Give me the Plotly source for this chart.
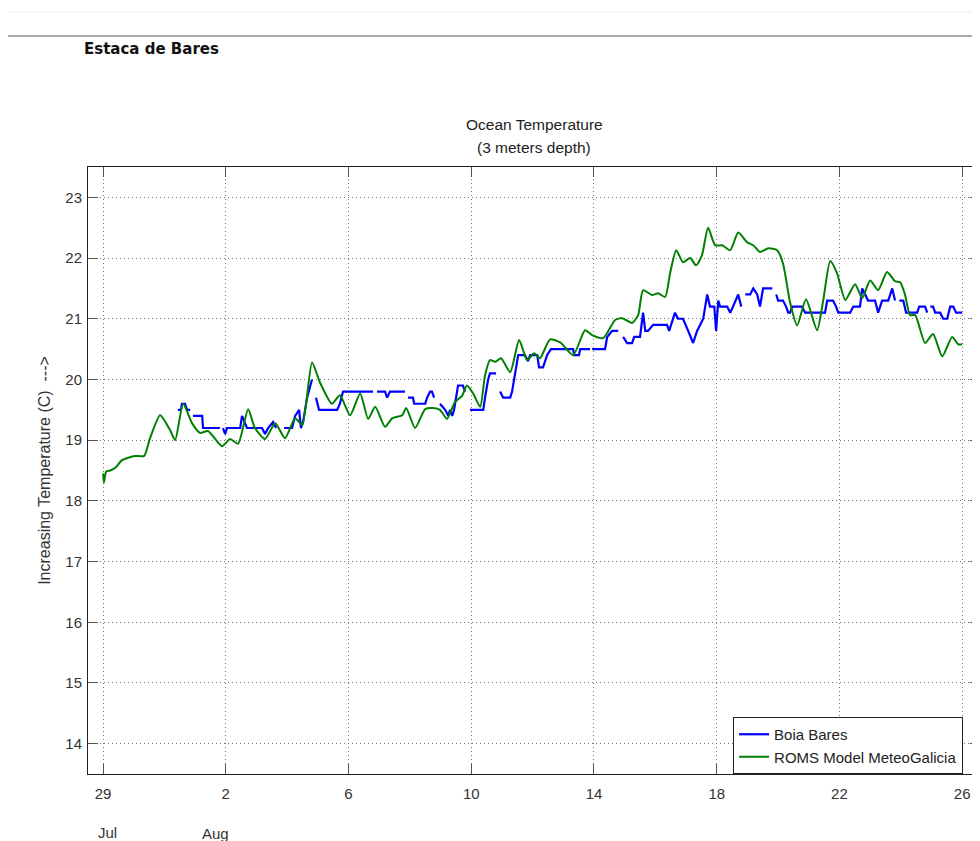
import plotly.graph_objects as go

# ---- data (x = days since 29 Jul 00:00, y = temperature in C) ----
tick_days = [0, 4, 8, 12, 16, 20, 24, 28]
tick_labels = ["29", "2", "6", "10", "14", "18", "22", "26"]
y_ticks = [14, 15, 16, 17, 18, 19, 20, 21, 22, 23]

roms_day = [0.0, 0.03, 0.1, 0.23, 0.39, 0.62, 1.04, 1.34, 1.53, 1.86, 2.18, 2.35, 2.61, 2.90,
            3.16, 3.42, 3.88, 4.14, 4.40, 4.73, 4.95, 5.28, 5.61, 5.93, 6.26, 6.49, 6.81, 7.07,
            7.46, 7.72, 8.05, 8.38, 8.64, 8.87, 9.19, 9.42, 9.75, 9.88, 10.17, 10.50, 10.76,
            10.98, 11.21, 11.47, 11.70, 11.86, 12.06, 12.29, 12.45, 12.61, 12.78, 12.97, 13.27,
            13.56, 13.82, 14.05, 14.24, 14.57, 14.90, 15.32, 15.71, 15.94, 16.30, 16.69, 16.92,
            17.24, 17.44, 17.60, 17.89, 18.09, 18.32, 18.48, 18.68, 18.90, 19.13, 19.33, 19.52,
            19.72, 19.95, 20.18, 20.44, 20.70, 20.99, 21.19, 21.41, 21.68, 21.97, 22.16, 22.39,
            22.62, 22.91, 23.27, 23.47, 23.70, 23.92, 24.19, 24.51, 24.74, 25.0, 25.26, 25.55,
            25.81, 25.98, 26.14, 26.30, 26.47, 26.79, 27.05, 27.35, 27.67, 27.87, 28.0]
roms_temp = [18.45, 18.3, 18.48, 18.5, 18.54, 18.67, 18.74, 18.74, 19.03, 19.41, 19.17, 19.0,
             19.6, 19.28, 19.12, 19.15, 18.9, 19.02, 18.94, 19.51, 19.2, 19.02, 19.28, 19.03,
             19.36, 19.25, 20.28, 19.95, 19.6, 19.74, 19.41, 19.77, 19.35, 19.55, 19.22, 19.36,
             19.41, 19.53, 19.2, 19.51, 19.53, 19.5, 19.35, 19.63, 19.73, 19.9, 19.77, 19.55,
             20.07, 20.32, 20.29, 20.35, 20.12, 20.65, 20.32, 20.43, 20.35, 20.66, 20.61, 20.4,
             20.81, 20.73, 20.68, 20.98, 21.01, 20.93, 21.06, 21.47, 21.39, 21.42, 21.36, 21.75,
             22.13, 21.93, 22.0, 21.88, 22.05, 22.5, 22.21, 22.21, 22.13, 22.42, 22.26, 22.21,
             22.1, 22.16, 22.13, 21.91, 21.27, 20.89, 21.32, 20.81, 21.3, 21.95, 21.75, 21.31,
             21.57, 21.34, 21.63, 21.47, 21.77, 21.62, 21.6, 21.39, 21.06, 21.06, 20.6, 20.75,
             20.38, 20.7, 20.58, 20.58]

buoy_day = [2.44, 2.54, 2.57, 2.67, 2.74, 2.84, None,
            2.93, 3.23, 3.26, 3.81, None,
            3.91, 3.98, 4.04, 4.47, 4.53, 4.60, 4.69, 5.18, 5.28, 5.38, 5.54, 5.64, None,
            5.90, 6.16, 6.26, 6.39, 6.45, 6.52, 6.65, 6.81, None,
            6.94, 7.04, 7.63, 7.72, 7.82, 8.80, None,
            8.93, 9.19, 9.26, 9.35, 9.84, None,
            9.94, 10.10, 10.14, 10.50, 10.56, 10.66, 10.72, 10.79, None,
            10.98, 11.15, 11.25, 11.31, 11.38, 11.44, 11.57, 11.73, 11.80, None,
            11.96, 12.39, 12.45, 12.55, 12.61, 12.81, None,
            12.94, 13.04, 13.27, 13.33, 13.43, 13.53, 13.75, 13.85, 13.92, 14.15, 14.21, 14.34,
            14.47, 14.60, 15.32, 15.35, 15.51, 15.55, 15.87, None,
            15.94, 16.36, 16.43, 16.59, 16.79, None,
            16.95, 17.08, 17.24, 17.31, 17.50, 17.60, 17.67, 17.76, 17.93, 18.38, 18.45, 18.64,
            18.74, 18.90, 19.07, 19.23, 19.36, 19.56, 19.69, 19.78, 19.92, 19.98, 20.05, 20.11,
            20.34, 20.44, 20.53, 20.70, 20.80, None,
            20.93, 21.09, 21.19, 21.32, 21.41, 21.51, 21.81, None,
            21.94, 22.00, 22.16, 22.26, 22.33, 22.39, 22.46, 22.78, 22.88, 23.53, 23.60, 23.79,
            23.89, 23.96, 24.35, 24.45, 24.67, 24.74, 24.84, 24.93, 25.16, 25.26, 25.39, 25.59,
            25.72, 25.81, None,
            25.95, 26.08, 26.17, 26.53, 26.60, 26.79, 26.86, None,
            26.96, 27.05, 27.12, 27.28, 27.38, 27.51, 27.61, 27.71, 27.80, 28.0]
buoy_temp = [19.5, 19.5, 19.6, 19.6, 19.5, 19.5, None,
             19.4, 19.4, 19.2, 19.2, None,
             19.2, 19.1, 19.2, 19.2, 19.4, 19.3, 19.2, 19.2, 19.1, 19.2, 19.3, 19.2, None,
             19.2, 19.2, 19.4, 19.5, 19.2, 19.3, 19.7, 20.0, None,
             19.7, 19.5, 19.5, 19.6, 19.8, 19.8, None,
             19.8, 19.8, 19.7, 19.8, 19.8, None,
             19.7, 19.7, 19.6, 19.6, 19.7, 19.8, 19.8, 19.7, None,
             19.6, 19.5, 19.4, 19.5, 19.4, 19.5, 19.9, 19.9, 19.8, None,
             19.5, 19.5, 19.7, 20.0, 20.1, 20.1, None,
             19.8, 19.7, 19.7, 19.8, 20.1, 20.4, 20.4, 20.3, 20.4, 20.4, 20.2, 20.2,
             20.4, 20.5, 20.5, 20.4, 20.4, 20.5, 20.5, None,
             20.5, 20.5, 20.7, 20.8, 20.8, None,
             20.7, 20.6, 20.6, 20.7, 20.7, 21.1, 20.8, 20.8, 20.9, 20.9, 20.8, 21.1,
             21.0, 21.0, 20.8, 20.6, 20.8, 21.0, 21.4, 21.2, 21.2, 20.8, 21.3, 21.2,
             21.2, 21.1, 21.2, 21.4, 21.2, None,
             21.4, 21.4, 21.5, 21.4, 21.2, 21.5, 21.5, None,
             21.4, 21.3, 21.3, 21.2, 21.1, 21.1, 21.2, 21.2, 21.1, 21.1, 21.3, 21.3,
             21.2, 21.1, 21.1, 21.2, 21.2, 21.5, 21.4, 21.3, 21.3, 21.1, 21.3, 21.3,
             21.5, 21.3, None,
             21.3, 21.3, 21.1, 21.1, 21.2, 21.2, 21.1, None,
             21.2, 21.2, 21.1, 21.1, 21.0, 21.0, 21.2, 21.2, 21.1, 21.1]

FONT = "Liberation Sans, Arial, sans-serif"

fig = go.Figure()
fig.add_trace(go.Scatter(x=buoy_day, y=buoy_temp, mode="lines", name="Boia Bares",
                         line=dict(color="#0000FF", width=2.2), connectgaps=False))
fig.add_trace(go.Scatter(x=roms_day, y=roms_temp, mode="lines", name="ROMS Model MeteoGalicia",
                         line=dict(color="#008000", width=2, shape="spline", smoothing=0.6)))

axis_common = dict(showline=True, linecolor="#222", linewidth=1, mirror="allticks",
                   ticks="inside", ticklen=10, tickcolor="#555", tickwidth=1,
                   showgrid=True, gridcolor="#777", griddash="1px,3px", gridwidth=1,
                   zeroline=False, tickfont=dict(family=FONT, size=15, color="#333"))

fig.update_xaxes(range=[-0.49, 28.58], tickvals=tick_days, ticktext=tick_labels,
                 ticklabelstandoff=6, **axis_common)
fig.update_yaxes(range=[13.5, 23.5], tickvals=y_ticks, ticklabelstandoff=2,
                 title=dict(text="Increasing Temperature (C)  --->",
                            font=dict(family=FONT, size=16, color="#333"), standoff=10),
                 **axis_common)

fig.update_layout(
    width=972, height=833,
    margin=dict(l=80, r=0, t=159, b=67),
    paper_bgcolor="white", plot_bgcolor="white",
    showlegend=True,
    legend=dict(x=0.981, xanchor="right", y=0, yanchor="bottom", bgcolor="white",
                bordercolor="#222", borderwidth=1,
                font=dict(family=FONT, size=15, color="#222"), tracegroupgap=0,
                itemwidth=30),
    annotations=[
        dict(text="Estaca de Bares", xref="paper", yref="paper", x=-0.007, y=1.2158,
             xanchor="left", yanchor="top", yshift=-2, showarrow=False,
             font=dict(family="DejaVu Sans", size=15, color="#111", weight="bold")),
        dict(text="Ocean Temperature", xref="paper", yref="paper",
             x=0.5, y=1, yanchor="middle", yshift=43, showarrow=False,
             font=dict(family=FONT, size=15.5, color="#222")),
        dict(text="(3 meters depth)", xref="paper", yref="paper",
             x=0.5, y=1, yanchor="middle", yshift=20, showarrow=False,
             font=dict(family=FONT, size=15.5, color="#222")),
        dict(text="Jul", xref="x", yref="paper", x=0.13, y=0, yanchor="top", yshift=-48,
             showarrow=False, font=dict(family=FONT, size=15, color="#333")),
        dict(text="Aug", xref="x", yref="paper", x=3.65, y=0, yanchor="top", yshift=-49,
             showarrow=False, font=dict(family=FONT, size=15, color="#333")),
    ],
    shapes=[
        dict(type="line", xref="paper", yref="paper", x0=-0.1, x1=1.0, y0=1.2158, y1=1.2158,
             line=dict(color="#555", width=1)),
        dict(type="line", xref="paper", yref="paper", x0=-0.1, x1=1.0, y0=1.2554, y1=1.2554,
             line=dict(color="#eee", width=1)),
    ],
)

fig.write_html("out.html")
